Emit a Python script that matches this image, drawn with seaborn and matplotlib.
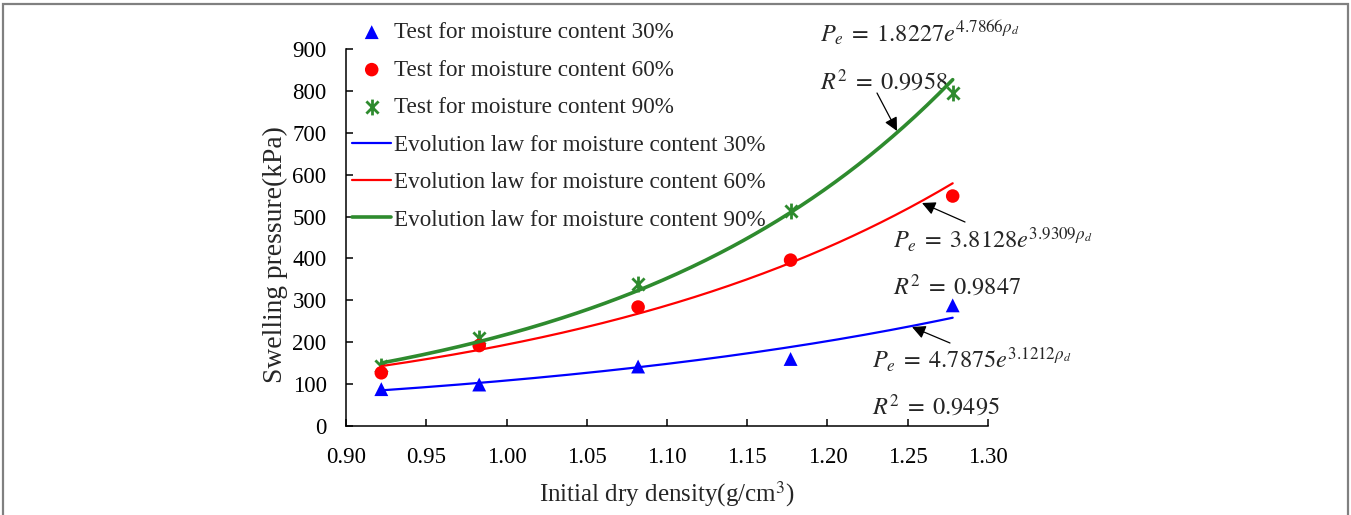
import numpy as np
import pandas as pd
import matplotlib
matplotlib.use("Agg")
import matplotlib.pyplot as plt
from matplotlib.path import Path
from matplotlib.patches import Rectangle
import seaborn as sns

# ---------------- data ----------------
density = [0.922, 0.983, 1.082, 1.177, 1.278]
p_30 = [88, 99, 142, 160, 288]
p_60 = [127, 192, 284, 396, 549]
p_90 = [143, 209, 340, 514, 796]
moisture = ["30%", "60%", "90%"]
fit_a = [4.7875, 3.8128, 1.8227]
fit_b = [3.1212, 3.9309, 4.7866]
r2 = ["0.9495", "0.9847", "0.9958"]
x_ticks = [0.90, 0.95, 1.00, 1.05, 1.10, 1.15, 1.20, 1.25, 1.30]
y_ticks = [0, 100, 200, 300, 400, 500, 600, 700, 800, 900]

sns.set_theme(style="white")
plt.rcParams["font.family"] = ["Liberation Serif", "DejaVu Serif"]
plt.rcParams["mathtext.fontset"] = "stix"

W, H = 1351, 515
fig = plt.figure(figsize=(W / 100, H / 100), dpi=100)
ax = fig.add_axes([346 / W, 1 - 426 / H, (988 - 346) / W, (426 - 49) / H])

blue, red, green = "#0000ff", "#ff0000", "#2e8b2e"
colors = [blue, red, green]

# asterisk-like marker: X plus vertical bar
star = Path([(-1, -1), (1, 1), (-1, 1), (1, -1), (0, -1.3), (0, 1.3)],
            [Path.MOVETO, Path.LINETO, Path.MOVETO, Path.LINETO, Path.MOVETO, Path.LINETO])

df = pd.DataFrame({"density": density, "p30": p_30, "p60": p_60, "p90": p_90})

sns.scatterplot(data=df, x="density", y="p30", marker="^", s=100, color=blue,
                edgecolor="none", ax=ax, label="Test for moisture content 30%", zorder=3)
sns.scatterplot(data=df, x="density", y="p90", marker=star, s=130, color=green,
                edgecolor=green, linewidth=2.0, ax=ax,
                label="Test for moisture content 90%", zorder=3)
sns.scatterplot(data=df, x="density", y="p60", marker="o", s=95, color=red,
                edgecolor="none", ax=ax, label="Test for moisture content 60%", zorder=3)

xs = np.linspace(density[0], density[-1], 200)
lws = [1.6, 1.6, 2.6]
for a, b, c, m, lw in zip(fit_a, fit_b, colors, moisture, lws):
    fit = pd.DataFrame({"x": xs, "y": a * np.exp(b * xs)})
    sns.lineplot(data=fit, x="x", y="y", color=c, lw=lw, ax=ax,
                 label=f"Evolution law for moisture content {m}", zorder=4)

ax.set_xlim(0.90, 1.30)
ax.set_ylim(0, 900)
ax.set_xticks(x_ticks)
ax.set_xticklabels([f"{v:.2f}" for v in x_ticks])
ax.set_yticks(y_ticks)
ax.set_yticklabels([str(v) for v in y_ticks])
ax.tick_params(axis="both", direction="in", length=5, width=1.1, colors="black",
               labelsize=16.5, bottom=True, left=True)
ax.tick_params(axis="y", pad=14)
ax.tick_params(axis="x", pad=15)
for s in ["top", "right"]:
    ax.spines[s].set_visible(False)
for s in ["left", "bottom"]:
    ax.spines[s].set_color("black")
    ax.spines[s].set_linewidth(1.1)

ax.set_xlabel("Initial dry density(g/cm$^3$)", fontsize=18, labelpad=8)
ax.set_ylabel("Swelling pressure(kPa)", fontsize=19.8)
ax.yaxis.set_label_coords(-0.091, 0.4536)

# legend in required order
handles, labels = ax.get_legend_handles_labels()
order = ["Test for moisture content 30%", "Test for moisture content 60%",
         "Test for moisture content 90%",
         "Evolution law for moisture content 30%",
         "Evolution law for moisture content 60%",
         "Evolution law for moisture content 90%"]
hmap = dict(zip(labels, handles))
leg = ax.legend([hmap[o] for o in order], order, loc="upper left",
                bbox_to_anchor=(352 / W, 1 - 22 / H), bbox_transform=fig.transFigure,
                frameon=False, fontsize=16.7, handlelength=1.7, handletextpad=0.1,
                labelspacing=0.7, borderpad=0, borderaxespad=0)

# equations
def px2data(px, py):
    return 0.90 + (px - 346) / 1605.0, (426 - py) / (377 / 900)

eq_fs = 17.5
eq_pos = [(872, 360, 407), (893, 240, 287), (820, 33, 82)]
for (px, py1, py2), a, b, r in zip(eq_pos, fit_a, fit_b, r2):
    x1, y1 = px2data(px, py1)
    _, y2 = px2data(px, py2)
    ax.text(x1, y1, rf"$P_e\;=\;{a}e^{{{b}\rho_d}}$", fontsize=eq_fs,
            va="center", ha="left", clip_on=False)
    ax.text(x1, y2, rf"$R^2\;=\;{r}$", fontsize=eq_fs,
            va="center", ha="left", clip_on=False)

arrows = [((950, 343), (912, 327)), ((965, 222), (922, 203)), ((877, 93), (897, 131))]
for tail, head in arrows:
    ax.annotate("", xy=px2data(*head), xytext=px2data(*tail),
                arrowprops=dict(arrowstyle="-|>", color="black", lw=0.9,
                                mutation_scale=20, shrinkA=0, shrinkB=0),
                annotation_clip=False, zorder=6)

# outer frame
fig.patches.append(Rectangle((3 / W, -0.02), (1348 - 3) / W, 1.02 - 4.5 / H,
                             transform=fig.transFigure, fill=False,
                             edgecolor="#808080", linewidth=1.6))

fig.savefig("out.png", dpi=100)
